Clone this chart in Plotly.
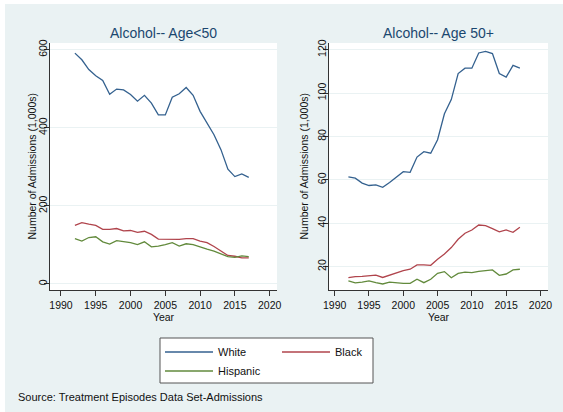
import plotly.graph_objects as go
from plotly.subplots import make_subplots

W, H = 563, 412

years = list(range(1992, 2018))

# admissions in 1,000s, age < 50
young_white = [591, 574, 549, 533, 521, 486, 499, 497, 485, 468, 483, 463, 433,
               433, 478, 487, 503, 483, 442, 412, 382, 344, 294, 275, 282, 273]
young_black = [150, 157, 153, 150, 140, 140, 142, 136, 137, 132, 135, 127, 115,
               115, 115, 114, 116, 116, 110, 106, 96, 85, 73, 71, 67, 67]
young_hisp = [116, 110, 119, 121, 108, 102, 111, 108, 106, 101, 108, 95, 97,
              101, 106, 97, 103, 101, 94, 89, 84, 77, 70, 68, 72, 70]

# admissions in 1,000s, age 50+
old_white = [61.4, 60.8, 58.5, 57.4, 57.7, 56.6, 58.8, 61.5, 63.8, 63.5, 70.5, 73.0, 72.3,
             78.5, 90.5, 97.0, 109.0, 111.5, 111.5, 118.5, 119.2, 118.2, 109.0, 107.4, 112.8, 111.5]
old_black = [14.9, 15.4, 15.5, 15.8, 16.1, 15.0, 16.0, 16.9, 18.2, 18.8, 20.8, 20.8, 20.6,
             23.4, 25.8, 28.8, 32.6, 35.4, 36.9, 39.2, 38.9, 37.5, 36.0, 36.9, 35.8, 38.2]
old_hisp = [13.4, 12.5, 12.9, 13.4, 12.6, 12.0, 12.9, 12.5, 12.3, 12.3, 14.2, 12.6, 14.2,
            16.9, 17.7, 14.9, 16.9, 17.5, 17.2, 17.8, 18.2, 18.5, 16.0, 16.6, 18.5, 18.8]

panel_titles = ['Alcohol-- Age<50', 'Alcohol-- Age 50+']
race_names = ['White', 'Black', 'Hispanic']
race_colors = ['#34618f', '#b0444c', '#628a3c']

FONT = 'Liberation Sans, Arial, sans-serif'
BG = '#EAF2F3'

fig = make_subplots(rows=1, cols=2, subplot_titles=panel_titles)

panels = [(young_white, young_black, young_hisp), (old_white, old_black, old_hisp)]
for col, series in enumerate(panels, start=1):
    for i, vals in enumerate(series):
        fig.add_trace(go.Scatter(
            x=years, y=vals, mode='lines', name=race_names[i],
            line=dict(color=race_colors[i], width=1.3),
            showlegend=(col == 1),
            legend='legend2' if race_names[i] == 'Hispanic' else 'legend',
        ), row=1, col=col)

def px_x(v):
    return v / W

def px_y(v):
    return (H - v) / H

xdom = [[px_x(50), px_x(277)], [px_x(329), px_x(548)]]
ydom = [px_y(290), px_y(43)]

axis_common = dict(
    ticks='outside', ticklen=5, tickcolor='#333', tickwidth=1,
    showline=True, linecolor='#333', linewidth=1, zeroline=False,
    tickfont=dict(size=10.5, color='#111', family=FONT),
    automargin=False,
)

fig.update_xaxes(**axis_common, showgrid=False, tick0=1990, dtick=5,
                 title=dict(text='Year', font=dict(size=10.5, color='#111', family=FONT), standoff=2))
fig.update_yaxes(**axis_common, showgrid=True, gridcolor=BG, gridwidth=1, tickangle=-90,
                 ticklabelstandoff=-7)

fig.update_layout(
    xaxis=dict(domain=xdom[0], range=[1988.42, 2021.06]),
    xaxis2=dict(domain=xdom[1], range=[1989.17, 2021.1]),
    yaxis=dict(domain=ydom, range=[-15.4, 617], tickvals=[0, 200, 400, 600]),
    yaxis2=dict(domain=ydom, range=[9.23, 123.1], tickvals=[20, 40, 60, 80, 100, 120]),
)

# subplot titles
for ann, d in zip(fig.layout.annotations, xdom):
    ann.update(x=(d[0] + d[1]) / 2, y=px_y(33), yanchor='middle',
               font=dict(size=14, color='#1a476f', family=FONT))

# y axis titles
for xpos in [31, 303]:
    fig.add_annotation(text='Number of Admissions (1,000s)', textangle=-90,
                       xref='paper', yref='paper', x=px_x(xpos), y=(ydom[0] + ydom[1]) / 2,
                       xanchor='center', yanchor='middle', showarrow=False,
                       font=dict(size=10.5, color='#111', family=FONT))

fig.add_annotation(text='Source: Treatment Episodes Data Set-Admissions',
                   xref='paper', yref='paper', x=px_x(16), y=px_y(397),
                   xanchor='left', yanchor='middle', showarrow=False,
                   font=dict(size=11, color='#111', family=FONT))

legend_common = dict(
    orientation='h', xanchor='left', yanchor='middle',
    itemwidth=48, entrywidth=54, entrywidthmode='pixels',
    bgcolor='rgba(0,0,0,0)', borderwidth=0,
    font=dict(size=11, color='#111', family=FONT),
)

fig.update_layout(
    width=W, height=H,
    margin=dict(l=0, r=0, t=0, b=0, autoexpand=False),
    paper_bgcolor=BG, plot_bgcolor='white',
    font=dict(family=FONT, color='#111'),
    legend=dict(**legend_common, x=px_x(160), y=px_y(352)),
    legend2=dict(**legend_common, x=px_x(160), y=px_y(371)),
    shapes=[
        # thin white border at top and left
        dict(type='rect', xref='paper', yref='paper', x0=0, x1=1, y0=px_y(4), y1=1,
             fillcolor='white', line=dict(width=0), layer='below'),
        dict(type='rect', xref='paper', yref='paper', x0=0, x1=px_x(5), y0=0, y1=1,
             fillcolor='white', line=dict(width=0), layer='below'),
        # legend box
        dict(type='rect', xref='paper', yref='paper', x0=px_x(160), x1=px_x(373),
             y0=px_y(383), y1=px_y(338), fillcolor='white',
             line=dict(color='#555', width=1), layer='below'),
    ],
)

# page has a default body margin; drop it so the figure sits at the window corner
fig.write_html('out.html', config={'displayModeBar': False},
               post_script="document.body.style.margin='0';")
